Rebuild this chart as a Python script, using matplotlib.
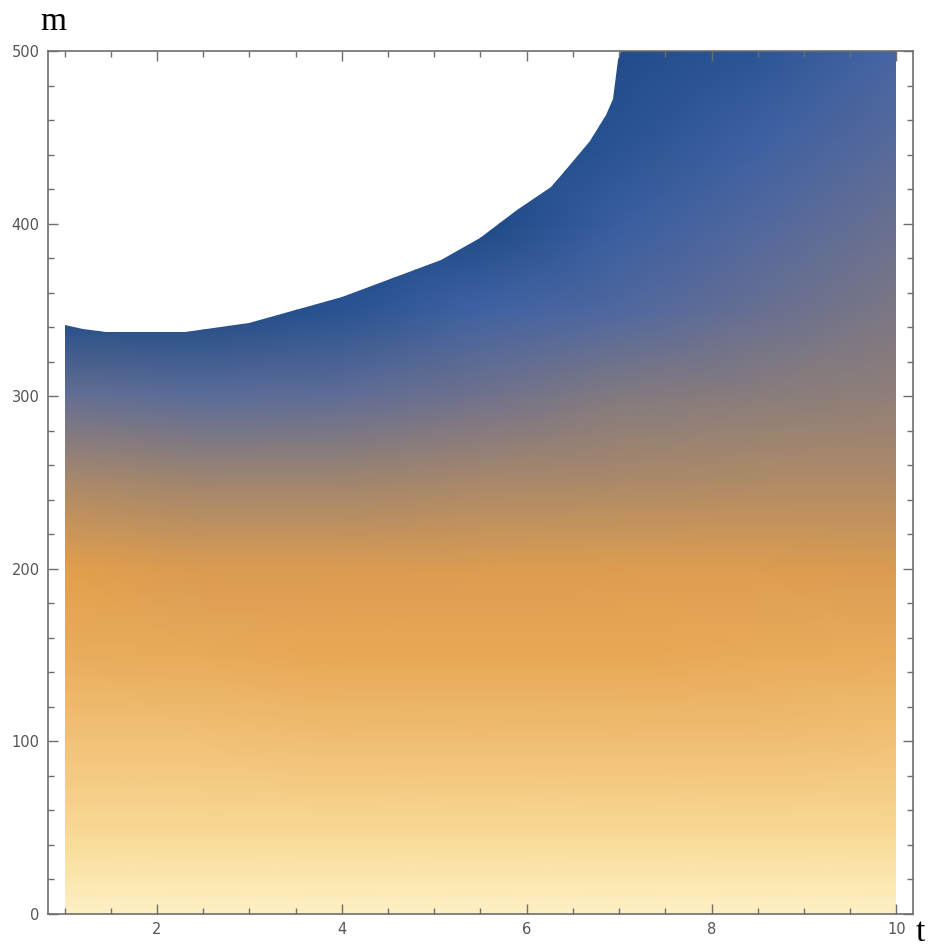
import numpy as np
import matplotlib
matplotlib.use("Agg")
import matplotlib.pyplot as plt
from matplotlib.colors import LinearSegmentedColormap
from matplotlib.patches import Polygon
from matplotlib.ticker import MultipleLocator

# Sample grid of the density field (value in 0..1 on the colour scale)
t_grid = [1.0, 2.5, 4.0, 5.5, 7.0, 8.5, 10.0]
m_grid = [0, 50, 100, 150, 200, 250, 300, 350, 400, 450, 500]

level_t1 = [1.00, 0.92, 0.86, 0.80, 0.745, 0.60, 0.38, 0.00, 0.00, 0.00, 0.00]
level_t2 = [1.00, 0.92, 0.86, 0.79, 0.72, 0.57, 0.34, 0.00, 0.00, 0.00, 0.00]
level_t3 = [1.00, 0.92, 0.85, 0.78, 0.72, 0.57, 0.36, 0.08, 0.00, 0.00, 0.00]
level_t4 = [1.00, 0.92, 0.85, 0.78, 0.725, 0.59, 0.42, 0.20, 0.00, 0.00, 0.00]
level_t5 = [1.00, 0.92, 0.85, 0.78, 0.73, 0.60, 0.48, 0.28, 0.17, 0.08, 0.02]
level_t6 = [1.00, 0.92, 0.85, 0.79, 0.73, 0.61, 0.50, 0.39, 0.29, 0.19, 0.10]
level_t7 = [1.00, 0.92, 0.86, 0.80, 0.72, 0.61, 0.52, 0.46, 0.40, 0.32, 0.24]

# Upper edge of the region where the function is defined
edge_t = [1.0, 1.2, 1.45, 2.3, 3.0, 4.0, 5.07, 5.5, 5.9, 6.26, 6.4, 6.68, 6.86, 6.93, 6.99, 7.02]
edge_m = [341, 339, 337.3, 337.3, 342.5, 357.6, 378.9, 391.5, 407.9, 421, 430, 448, 463, 472, 495, 500]

x_ticks = [2, 4, 6, 8, 10]
y_ticks = [0, 100, 200, 300, 400, 500]

gradient = LinearSegmentedColormap.from_list("density", [
    (0.00, "#1E4A86"),
    (0.12, "#2F5898"),
    (0.22, "#4464A6"),
    (0.32, "#566A9C"),
    (0.40, "#6A7090"),
    (0.48, "#827A80"),
    (0.56, "#9C8470"),
    (0.63, "#B68D63"),
    (0.70, "#D49857"),
    (0.75, "#E3A04B"),
    (0.80, "#E9AD5C"),
    (0.86, "#F1C077"),
    (0.92, "#F8D792"),
    (1.00, "#FDF0C4"),
])

fig = plt.figure(figsize=(9.29, 9.47), dpi=100)
ax = fig.add_axes([48 / 929, 33 / 947, 865 / 929, 863 / 947])

levels = np.array([level_t1, level_t2, level_t3, level_t4,
                   level_t5, level_t6, level_t7]).T
T, M = np.meshgrid(t_grid, m_grid)
mesh = ax.pcolormesh(T, M, levels, shading="gouraud", cmap=gradient,
                     vmin=0, vmax=1, rasterized=True)

# Clip the field to the defined region
region = [(t_grid[0], 0), (t_grid[-1], 0), (t_grid[-1], 500)]
region += list(zip(edge_t[::-1], edge_m[::-1]))
clip = Polygon(region, closed=True, transform=ax.transData,
               facecolor="none", edgecolor="none")
ax.add_patch(clip)
mesh.set_clip_path(clip)

ax.set_xlim(0.82, 10.18)
ax.set_ylim(0, 500)

frame_col = "#6e6e6e"
for sp in ax.spines.values():
    sp.set_color(frame_col)
    sp.set_linewidth(1.2)

ax.set_xticks(x_ticks)
ax.set_yticks(y_ticks)
ax.xaxis.set_minor_locator(MultipleLocator(0.5))
ax.yaxis.set_minor_locator(MultipleLocator(20))
ax.tick_params(which="both", direction="in", top=True, right=True,
               color=frame_col, width=1.0)
ax.tick_params(which="major", length=7, labelsize=10.5,
               labelcolor="#555555", pad=6)
ax.tick_params(which="minor", length=4)

fig.text(53 / 929, 1 - 22 / 947, "m", fontsize=24, family="Liberation Serif",
         ha="center", va="center")
fig.text(920 / 929, 1 - 933 / 947, "t", fontsize=24, family="Liberation Serif",
         ha="center", va="center")

fig.savefig("out.png", dpi=100)
